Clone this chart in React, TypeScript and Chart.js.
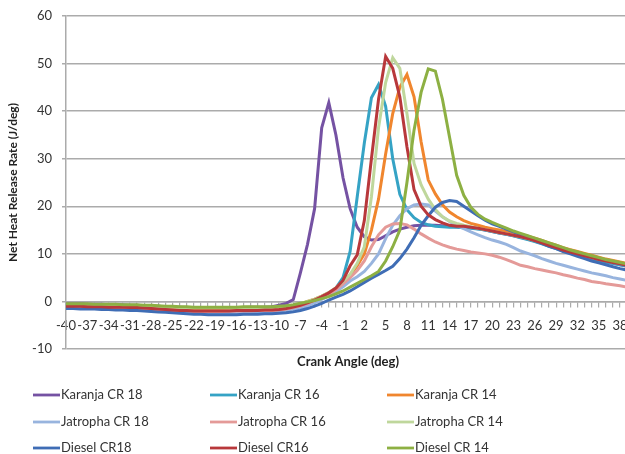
import { useEffect, useRef } from 'react';
import { Chart, registerables } from 'chart.js';

Chart.register(...registerables);

// Crank angle (deg), one sample per degree
const ANGLES = [
  -40, -39, -38, -37, -36, -35, -34, -33, -32, -31,
  -30, -29, -28, -27, -26, -25, -24, -23, -22, -21,
  -20, -19, -18, -17, -16, -15, -14, -13, -12, -11,
  -10, -9, -8, -7, -6, -5, -4, -3, -2, -1,
  0, 1, 2, 3, 4, 5, 6, 7, 8, 9,
  10, 11, 12, 13, 14, 15, 16, 17, 18, 19,
  20, 21, 22, 23, 24, 25, 26, 27, 28, 29,
  30, 31, 32, 33, 34, 35, 36, 37, 38, 39, 40,
];

// Labelled crank angles on the horizontal axis
const TICK_LABELS = [
  -40, -37, -34, -31, -28, -25, -22, -19, -16, -13, -10, -7, -4, -1,
  2, 5, 8, 11, 14, 17, 20, 23, 26, 29, 32, 35, 38,
];

// Net heat release rate (J/deg) for each fuel / compression ratio
const KARANJA_CR18 = [
  -0.5, -0.5, -0.5, -0.6, -0.6, -0.6, -0.7, -0.7, -0.7, -0.8,
  -0.8, -0.9, -1.0, -1.0, -1.1, -1.2, -1.2, -1.3, -1.3, -1.3,
  -1.3, -1.3, -1.3, -1.3, -1.3, -1.3, -1.2, -1.2, -1.2, -1.1,
  -0.8, -0.4, 0.4, 6.0, 12.0, 19.5, 36.5, 41.8, 35.0, 26.0,
  19.5, 15.6, 13.6, 12.9, 13.0, 13.8, 14.6, 15.2, 15.6, 15.9,
  16.0, 16.0, 16.0, 15.9, 15.8, 15.7, 15.6, 15.5, 15.3, 15.0,
  14.7, 14.4, 14.1, 13.8, 13.5, 13.1, 12.7, 12.2, 11.7, 11.2,
  10.8, 10.3, 9.9, 9.5, 9.1, 8.7, 8.3, 8.0, 7.7, 7.4, 7.1,
];

const KARANJA_CR16 = [
  -0.8, -0.8, -0.8, -0.9, -0.9, -0.9, -1.0, -1.0, -1.0, -1.1,
  -1.1, -1.2, -1.3, -1.4, -1.5, -1.5, -1.6, -1.7, -1.7, -1.8,
  -1.8, -1.8, -1.8, -1.8, -1.8, -1.7, -1.7, -1.7, -1.7, -1.6,
  -1.5, -1.3, -1.0, -0.6, -0.1, 0.3, 0.8, 1.5, 2.8, 5.0,
  10.5, 22.0, 33.3, 42.8, 45.6, 41.0, 30.0, 22.5, 19.3, 17.6,
  16.6, 16.1, 15.8, 15.7, 15.6, 15.6, 15.5, 15.4, 15.2, 15.0,
  14.7, 14.4, 14.1, 13.8, 13.4, 13.0, 12.6, 12.1, 11.6, 11.1,
  10.6, 10.2, 9.8, 9.4, 9.0, 8.6, 8.3, 8.0, 7.7, 7.4, 7.1,
];

const KARANJA_CR14 = [
  -0.7, -0.7, -0.7, -0.7, -0.8, -0.8, -0.8, -0.9, -0.9, -0.9,
  -1.0, -1.1, -1.2, -1.3, -1.4, -1.4, -1.5, -1.6, -1.6, -1.7,
  -1.7, -1.7, -1.7, -1.7, -1.7, -1.6, -1.6, -1.6, -1.6, -1.5,
  -1.4, -1.2, -0.9, -0.5, 0.0, 0.5, 1.1, 1.8, 2.7, 3.9,
  5.5, 7.5, 10.0, 15.0, 21.5, 31.0, 39.5, 45.0, 47.7, 43.0,
  33.5, 25.5, 22.6, 20.3, 18.8, 17.8, 17.0, 16.4, 16.0, 15.6,
  15.3, 15.0, 14.7, 14.4, 14.1, 13.7, 13.3, 12.8, 12.3, 11.8,
  11.3, 10.9, 10.5, 10.1, 9.7, 9.3, 8.9, 8.6, 8.3, 8.0, 7.7,
];

const JATROPHA_CR18 = [
  -1.3, -1.3, -1.4, -1.4, -1.4, -1.5, -1.5, -1.5, -1.6, -1.6,
  -1.7, -1.8, -1.9, -2.0, -2.1, -2.2, -2.3, -2.4, -2.4, -2.5,
  -2.5, -2.5, -2.5, -2.5, -2.4, -2.4, -2.4, -2.3, -2.3, -2.3,
  -2.2, -2.0, -1.7, -1.4, -0.9, -0.3, 0.4, 1.2, 2.1, 3.1,
  4.3, 5.2, 6.3, 8.0, 10.0, 13.2, 16.0, 18.0, 19.5, 20.3,
  20.5, 20.3, 19.0, 17.8, 16.8, 16.0, 15.3, 14.6, 14.0, 13.4,
  12.9, 12.5, 12.0, 11.3, 10.6, 10.1, 9.6, 9.0, 8.5, 8.0,
  7.6, 7.2, 6.8, 6.4, 6.0, 5.7, 5.4, 5.0, 4.7, 4.4, 4.1,
];

const JATROPHA_CR16 = [
  -1.0, -1.0, -1.1, -1.1, -1.1, -1.2, -1.2, -1.3, -1.3, -1.4,
  -1.4, -1.5, -1.6, -1.7, -1.8, -1.9, -2.0, -2.0, -2.1, -2.1,
  -2.1, -2.1, -2.1, -2.0, -2.0, -2.0, -2.0, -1.9, -1.9, -1.9,
  -1.8, -1.6, -1.3, -0.9, -0.4, 0.2, 0.8, 1.5, 2.5, 3.7,
  5.0, 6.5, 8.5, 11.5, 14.0, 15.6, 16.3, 16.4, 16.1, 15.2,
  14.2, 13.3, 12.5, 11.9, 11.4, 11.0, 10.7, 10.4, 10.2, 10.0,
  9.7, 9.3, 8.8, 8.2, 7.6, 7.3, 6.9, 6.6, 6.3, 6.0,
  5.6, 5.3, 4.9, 4.6, 4.2, 4.0, 3.7, 3.5, 3.3, 3.0, 2.8,
];

const JATROPHA_CR14 = [
  -0.6, -0.6, -0.6, -0.7, -0.7, -0.7, -0.7, -0.8, -0.8, -0.8,
  -0.9, -1.0, -1.0, -1.1, -1.2, -1.2, -1.3, -1.3, -1.4, -1.4,
  -1.4, -1.4, -1.4, -1.4, -1.4, -1.4, -1.3, -1.3, -1.3, -1.3,
  -1.2, -1.0, -0.8, -0.4, 0.0, 0.5, 1.1, 1.9, 2.9, 4.2,
  5.7, 8.0, 11.5, 22.0, 36.5, 46.0, 51.2, 49.0, 39.5, 29.0,
  24.5, 21.5, 19.3, 17.8, 16.9, 16.4, 16.0, 15.7, 15.4, 15.1,
  14.8, 14.5, 14.2, 13.9, 13.6, 13.2, 12.8, 12.3, 11.8, 11.3,
  10.9, 10.5, 10.1, 9.7, 9.3, 8.9, 8.6, 8.3, 8.0, 7.7, 7.4,
];

const DIESEL_CR18 = [
  -1.5, -1.5, -1.6, -1.6, -1.6, -1.7, -1.7, -1.8, -1.8, -1.9,
  -1.9, -2.0, -2.1, -2.2, -2.3, -2.4, -2.5, -2.6, -2.7, -2.7,
  -2.8, -2.8, -2.8, -2.8, -2.8, -2.7, -2.7, -2.7, -2.6, -2.6,
  -2.5, -2.4, -2.2, -1.9, -1.5, -1.0, -0.4, 0.3, 0.9, 1.5,
  2.2, 3.1, 4.0, 4.9, 5.7, 6.5, 7.4, 9.0, 11.0, 13.4,
  16.0, 18.0, 19.8, 20.8, 21.2, 21.0, 20.0, 19.0, 18.0, 17.1,
  16.3, 15.8, 15.2, 14.6, 14.0, 13.4, 12.8, 12.2, 11.6, 11.1,
  10.5, 10.0, 9.5, 9.0, 8.5, 8.1, 7.7, 7.3, 6.9, 6.6, 6.3,
];

const DIESEL_CR16 = [
  -1.0, -1.0, -1.0, -1.1, -1.1, -1.1, -1.2, -1.2, -1.2, -1.3,
  -1.3, -1.4, -1.5, -1.6, -1.7, -1.8, -1.9, -1.9, -2.0, -2.0,
  -2.0, -2.0, -2.0, -2.0, -1.9, -1.9, -1.9, -1.9, -1.8, -1.8,
  -1.7, -1.5, -1.2, -0.8, -0.3, 0.3, 1.0, 1.8, 2.8, 4.4,
  7.5, 9.8, 17.0, 30.0, 42.5, 51.5, 49.0, 43.0, 32.5, 23.5,
  20.0, 18.2, 17.2, 16.5, 16.0, 15.8, 15.8, 15.6, 15.4, 15.1,
  14.8, 14.5, 14.2, 13.9, 13.6, 13.2, 12.8, 12.3, 11.8, 11.3,
  10.8, 10.4, 10.0, 9.6, 9.2, 8.8, 8.5, 8.2, 7.9, 7.6, 7.3,
];

const DIESEL_CR14 = [
  -0.5, -0.5, -0.5, -0.5, -0.6, -0.6, -0.6, -0.6, -0.7, -0.7,
  -0.7, -0.8, -0.8, -0.9, -1.0, -1.0, -1.1, -1.1, -1.2, -1.2,
  -1.2, -1.2, -1.2, -1.2, -1.2, -1.1, -1.1, -1.1, -1.1, -1.1,
  -1.0, -0.9, -0.7, -0.4, -0.1, 0.2, 0.6, 1.0, 1.6, 2.2,
  3.0, 3.8, 4.6, 5.4, 6.3, 8.5, 11.5, 15.0, 25.0, 36.0,
  44.0, 48.9, 48.4, 42.5, 34.5, 26.5, 22.3, 19.8, 18.3, 17.3,
  16.6, 16.0, 15.4, 14.8, 14.3, 13.8, 13.3, 12.8, 12.3, 11.8,
  11.3, 10.8, 10.4, 10.0, 9.6, 9.2, 8.8, 8.5, 8.2, 7.9, 7.6,
];

const SERIES_NAMES = [
  'Karanja CR 18', 'Karanja CR 16', 'Karanja CR 14',
  'Jatropha CR 18', 'Jatropha CR 16', 'Jatropha CR 14',
  'Diesel CR18', 'Diesel CR16', 'Diesel CR 14',
];

const SERIES_VALUES = [
  KARANJA_CR18, KARANJA_CR16, KARANJA_CR14,
  JATROPHA_CR18, JATROPHA_CR16, JATROPHA_CR14,
  DIESEL_CR18, DIESEL_CR16, DIESEL_CR14,
];

const SERIES_COLORS = [
  '#7552A3', '#35A3C5', '#F0862E',
  '#98B4DE', '#E49A98', '#BFD79C',
  '#3F6DB5', '#B8383B', '#8DB043',
];

const FONT = 'Lato, "Open Sans", sans-serif';
const TEXT_COLOR = '#333333';
const GRID_COLOR = '#ababab';

// Three-column legend below the plot plus the horizontal axis title
const legendPlugin = {
  id: 'gridLegend',
  afterDraw(chart: Chart) {
    const { ctx } = chart;
    const colX = [33, 210, 387];
    const rowY = [395, 422, 448];
    ctx.save();
    ctx.font = `bold 13px ${FONT}`;
    ctx.fillStyle = '#222222';
    ctx.textAlign = 'center';
    ctx.textBaseline = 'middle';
    ctx.fillText('Crank Angle (deg)', 348, 362);

    ctx.font = `13px ${FONT}`;
    ctx.textAlign = 'left';
    SERIES_NAMES.forEach((name, i) => {
      const x = colX[i % 3];
      const y = rowY[Math.floor(i / 3)];
      ctx.strokeStyle = SERIES_COLORS[i];
      ctx.lineWidth = 2.8;
      ctx.beginPath();
      ctx.moveTo(x, y);
      ctx.lineTo(x + 27, y);
      ctx.stroke();
      ctx.fillStyle = TEXT_COLOR;
      ctx.fillText(name, x + 28, y);
    });
    ctx.restore();
  },
};

export default function App() {
  const canvasRef = useRef<HTMLCanvasElement | null>(null);

  useEffect(() => {
    const canvas = canvasRef.current;
    if (!canvas) return;
    const xMax = 38.7;

    const chart = new Chart(canvas, {
      type: 'line',
      data: {
        datasets: SERIES_NAMES.map((name, i) => ({
          label: name,
          data: ANGLES.map((a, j) => ({ x: a, y: SERIES_VALUES[i][j] })),
          borderColor: SERIES_COLORS[i],
          backgroundColor: SERIES_COLORS[i],
          borderWidth: 3,
          pointRadius: 0,
          tension: 0,
          fill: false,
          order: SERIES_NAMES.length - i,
        })),
      },
      options: {
        responsive: false,
        animation: false,
        layout: { padding: { left: 6, top: 16, right: 0, bottom: 105 } },
        plugins: {
          legend: { display: false },
          tooltip: { enabled: false },
        },
        scales: {
          x: {
            type: 'linear',
            min: -40,
            max: xMax,
            position: { y: 0 },
            afterBuildTicks: (scale: any) => {
              scale.ticks = ANGLES.filter((a) => a <= xMax).map((a) => ({ value: a }));
            },
            afterFit: (scale: any) => {
              scale.paddingLeft = 0;
              scale.paddingRight = 0;
            },
            ticks: {
              autoSkip: false,
              maxRotation: 0,
              minRotation: 0,
              padding: 12,
              color: TEXT_COLOR,
              font: { family: FONT, size: 13 },
              callback: (value: any) => (TICK_LABELS.includes(Number(value)) ? String(value) : ''),
            },
            grid: {
              drawOnChartArea: false,
              drawTicks: true,
              tickLength: 5,
              color: GRID_COLOR,
              lineWidth: 1.2,
            },
            border: { display: true, color: GRID_COLOR, width: 1.5 },
          },
          y: {
            type: 'linear',
            position: 'left',
            min: -10,
            max: 60,
            afterFit: (scale: any) => {
              scale.width = 60;
              scale.paddingTop = 0;
              scale.paddingBottom = 0;
            },
            ticks: {
              stepSize: 10,
              padding: 10,
              color: TEXT_COLOR,
              font: { family: FONT, size: 13 },
            },
            grid: {
              color: GRID_COLOR,
              lineWidth: 1.5,
              tickLength: 4,
            },
            border: { display: true, color: GRID_COLOR, width: 1.5 },
            title: {
              display: true,
              text: 'Net Heat Release Rate (J/deg)',
              color: '#222222',
              font: { family: FONT, size: 12, weight: 'bold' },
              padding: 0,
            },
          },
        },
      },
      plugins: [legendPlugin],
    });

    return () => chart.destroy();
  }, []);

  return (
    <div style={{ position: 'fixed', left: 0, top: 0, width: 625, height: 454, background: '#fff' }}>
      <canvas ref={canvasRef} width={625} height={454} />
    </div>
  );
}
